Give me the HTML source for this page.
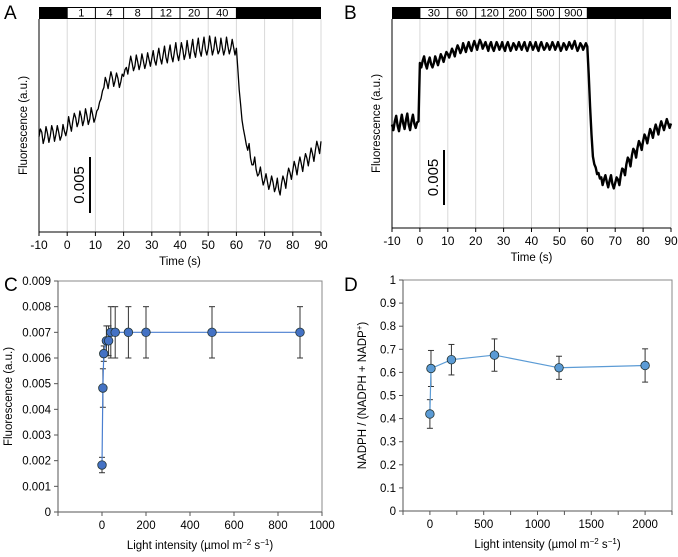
<!DOCTYPE html>
<html><head><meta charset="utf-8"><style>
body{margin:0;background:#fff}
svg{display:block;font-family:"Liberation Sans",sans-serif}
</style></head><body>
<svg id="s" width="678" height="557" viewBox="0 0 678 557"></svg>
<script>
// ---- data ----
const aTime0 = -10; // traces sampled each 1 s from -10 to 90
const aTrace = [8.5,8.9,8.4,8.8,8.6,9.0,8.7,8.9,8.6,9.0,
9.2,9.6,9.9,10.2,9.8,10.3,10.0,10.4,10.1,10.5,
10.2,11.0,11.9,12.9,13.4,13.6,13.8,13.5,13.7,13.4,
13.9,14.7,14.9,15.1,14.8,15.2,15.0,15.3,15.1,15.4,
15.5,15.3,15.7,15.5,15.8,15.6,16.0,15.7,16.1,15.9,
16.0,16.3,15.9,16.2,16.4,16.1,16.5,16.2,16.6,16.3,
16.4,16.7,16.3,16.6,16.2,16.5,16.3,16.6,16.4,16.5,
16.4,12.7,10.0,8.5,7.3,6.6,6.0,5.6,5.2,4.9,
4.6,4.5,4.3,4.4,4.0,3.8,4.3,4.6,5.0,5.3,
5.5,5.8,6.0,6.1,6.3,6.6,6.7,7.0,7.3,7.6,8.1];
// readings halfway between the 1-s samples (noise)
const aMid = [9.2,7.9,9.4,8.0,9.5,8.1,9.5,8.2,9.6,8.6,
10.3,9.0,10.6,9.4,10.8,9.5,11.0,9.6,11.1,9.8,
10.8,11.6,12.6,13.8,12.8,14.3,13.0,14.2,12.9,14.1,
14.5,14.1,15.7,14.4,15.8,14.5,15.9,14.6,16.0,14.8,
16.2,14.9,16.4,15.0,16.6,15.1,16.7,15.2,16.9,15.3,
16.9,15.4,17.1,15.5,17.2,15.6,17.3,15.7,17.4,15.8,
17.5,15.8,17.4,15.9,17.3,15.8,17.4,15.9,17.2,15.8,
14.6,11.4,9.2,7.8,7.9,6.0,6.7,5.0,5.8,4.2,
5.2,3.8,5.0,3.6,4.8,3.3,5.0,3.9,5.7,4.7,
6.3,5.1,6.7,5.4,7.0,5.9,7.5,6.3,8.1,7.0];
const bTrace = [9.4,9.7,9.3,9.6,9.5,9.8,9.4,9.7,9.5,9.6,
15.0,15.2,14.9,15.1,14.9,15.0,15.2,15.3,15.5,15.6,
15.8,15.9,16.0,16.2,16.3,16.2,16.4,16.5,16.4,16.6,
16.6,16.7,16.8,16.6,16.5,16.6,16.4,16.5,16.6,16.5,
16.4,16.6,16.5,16.4,16.6,16.5,16.5,16.6,16.4,16.5,
16.6,16.5,16.4,16.6,16.5,16.4,16.6,16.5,16.6,16.5,
16.5,16.4,16.6,16.5,16.6,16.7,16.5,16.4,16.6,16.5,
16.5,11.0,6.5,5.5,5.0,4.6,4.4,4.2,4.3,4.0,
4.1,4.4,4.8,5.3,5.8,6.2,6.6,7.0,7.3,7.6,
7.9,8.2,8.4,8.7,8.9,9.0,9.2,9.3,9.4,9.5,9.5];
const bMid = [8.9,10.2,8.8,10.3,9.0,10.4,8.9,10.3,9.1,9.7,
14.6,15.6,14.5,15.5,14.6,15.6,14.8,15.8,15.1,16.0,
15.5,16.3,15.6,16.6,15.9,16.8,16.0,16.9,16.1,17.0,
16.2,17.1,16.3,16.9,16.1,16.9,16.1,16.9,16.2,16.9,
16.1,16.9,16.1,16.8,16.2,16.9,16.2,16.9,16.1,16.9,
16.2,16.9,16.1,16.9,16.2,16.8,16.2,16.9,16.2,16.9,
16.1,16.8,16.2,16.9,16.3,17.0,16.1,16.8,16.2,16.8,
14.0,8.5,5.8,4.9,4.5,3.9,4.8,3.7,4.8,3.6,
4.6,3.9,5.4,4.8,6.4,5.6,7.2,6.4,7.9,7.1,
8.5,7.7,9.0,8.2,9.4,8.5,9.7,8.9,9.9,9.1];
const aSteps = ["1","4","8","12","20","40"];
const bSteps = ["30","60","120","200","500","900"];
const timeTicks = [-10,0,10,20,30,40,50,60,70,80,90];
const cX = [0,4,8,20,30,40,60,120,200,500,900];
const cY = [0.00183,0.00483,0.00617,0.00667,0.00667,0.007,0.007,0.007,0.007,0.007,0.007];
const cErr = [0.0003,0.00075,0.0003,0.00058,0.00058,0.001,0.001,0.001,0.001,0.001,0.001];
const cYTicks = [0,0.001,0.002,0.003,0.004,0.005,0.006,0.007,0.008,0.009];
const cXTicks = [0,200,400,600,800,1000];
const dX = [0,10,200,600,1200,2000];
const dY = [0.42,0.617,0.655,0.675,0.62,0.63];
const dErr = [0.062,0.078,0.066,0.07,0.05,0.072];
const dYTicks = [0,0.1,0.2,0.3,0.4,0.5,0.6,0.7,0.8,0.9,1];
const dXTicks = [0,500,1000,1500,2000];

const S = document.getElementById('s');
const NS = 'http://www.w3.org/2000/svg';
function el(tag, attrs, parent, txt){
  const e = document.createElementNS(NS, tag);
  for (const k in attrs) e.setAttribute(k, attrs[k]);
  if (txt !== undefined) e.textContent = txt;
  (parent || S).appendChild(e);
  return e;
}
function grp(name){ const g = el('g', {});   return g; }

function tracePanel(o){
  const g = grp(o.name);
  const X = t => o.x0 + (t + 10) * (o.x1 - o.x0) / 100;
  const Y = v => o.yb - v * o.ppu;
  const grid = grp(o.name + '-gridlines'); g.appendChild(grid);
  for (let t = 0; t <= 90; t += 10) el('line', {x1:X(t), x2:X(t), y1:o.top, y2:o.yb, stroke:'#d9d9d9', 'stroke-width':1}, grid);
  const bar = grp(o.name + '-light-bar'); g.appendChild(bar);
  el('rect', {x:X(-10), y:o.top - 12, width:X(90) - X(-10), height:12, fill:'#000'}, bar);
  o.steps.forEach((s, i) => {
    el('rect', {x:X(i*10)+0.5, y:o.top - 11, width:X(10)-X(0)-1, height:10, fill:'#fff'}, bar);
    const t = el('text', {x:(X(i*10)+X(i*10+10))/2, y:o.top - 2.5, 'font-size':11, 'text-anchor':'middle'}, bar, s);
    
    
  });
  el('line', {x1:X(-10), x2:X(-10), y1:o.top, y2:o.yb, stroke:'#000'}, g);
  el('line', {x1:X(-10), x2:X(90), y1:o.yb, y2:o.yb, stroke:'#000'}, g);
  timeTicks.forEach(t => {
    el('line', {x1:X(t), x2:X(t), y1:o.yb, y2:o.yb + 4, stroke:'#000'}, g);
    const tx = el('text', {x:X(t), y:o.yb + 17, 'font-size':12, 'text-anchor':'middle'}, g, String(t));
    
    
  });
  const xt = el('text', {x:(X(-10)+X(90))/2, y:o.yb + 33, 'font-size':11.5, 'text-anchor':'middle'}, g, 'Time (s)');
  
  
  const yt = el('text', {x:0, y:0, 'font-size':11.5, 'text-anchor':'middle', transform:`translate(${o.x0-12},${(o.top+o.yb)/2}) rotate(-90)`}, g, 'Fluorescence (a.u.)');
  
  
  // trace: interleave 1-s samples with half-second readings
  const p = [];
  o.data.forEach((v, i) => {
    p.push(X(aTime0 + i).toFixed(1) + ',' + Y(v).toFixed(1));
    if (i < o.mid.length) p.push(X(aTime0 + i + 0.5).toFixed(1) + ',' + Y(o.mid[i]).toFixed(1));
  });
  const pl = el('polyline', {points:p.join(' '), fill:'none', stroke:'#000', 'stroke-width':o.sw, 'stroke-linejoin':'round'}, g);
  
  
  const sb = grp(o.name + '-scale-bar'); g.appendChild(sb);
  el('line', {x1:o.sbx, x2:o.sbx, y1:o.sby, y2:o.sby - 5 * o.ppu, stroke:'#000', 'stroke-width':2}, sb);
  el('text', {x:0, y:0, 'font-size':15, 'text-anchor':'middle', transform:`translate(${o.sbx-6},${o.sby - 2.5*o.ppu}) rotate(-90)`}, sb, '0.005');
  const L = el('text', {x:o.lx, y:19, 'font-size':19}, g, o.letter);
  
  
}
tracePanel({name:'panel-a', letter:'A', lx:4, x0:39, x1:321, top:19, yb:232, ppu:11.2, data:aTrace, mid:aMid, steps:aSteps, sw:1.3, sbx:90, sby:213});
tracePanel({name:'panel-b', letter:'B', lx:344, x0:392, x1:671, top:19, yb:228, ppu:11, data:bTrace, mid:bMid, steps:bSteps, sw:2.4, sbx:444, sby:205});

function scatterPanel(o){
  const g = grp(o.name);
  const X = v => o.px0 + (v - o.xmin) * (o.px1 - o.px0) / (o.xmax - o.xmin);
  const Y = v => o.yb - (v - o.ymin) * (o.yb - o.yt) / (o.ymax - o.ymin);
  el('rect', {x:o.px0, y:o.yt, width:o.px1 - o.px0, height:o.yb - o.yt, fill:'none', stroke:'#888', 'stroke-width':1}, g);
  el('line', {x1:o.px0, x2:o.px1, y1:o.yb, y2:o.yb, stroke:'#555'}, g);
  el('line', {x1:o.px0, x2:o.px0, y1:o.yt, y2:o.yb, stroke:'#555'}, g);
  o.yTicks.forEach(v => {
    el('line', {x1:o.px0 - 4, x2:o.px0, y1:Y(v), y2:Y(v), stroke:'#555'}, g);
    const t = el('text', {x:o.px0 - 7, y:Y(v) + 4, 'font-size':11.5, 'text-anchor':'end'}, g, String(v));
    
    
  });
  for (let v = o.xmin; v <= o.xmax + 1e-9; v += o.tickStep) el('line', {x1:X(v), x2:X(v), y1:o.yb, y2:o.yb + 4, stroke:'#555'}, g);
  o.xTicks.forEach(v => {
    const t = el('text', {x:X(v), y:o.yb + 17, 'font-size':11.5, 'text-anchor':'middle'}, g, String(v));
    
    
  });
  const xt = el('text', {x:(o.px0 + o.px1)/2 + 10, y:o.yb + 37, 'font-size':11.5, 'text-anchor':'middle'}, g);
  xt.innerHTML = 'Light intensity (µmol m<tspan dy="-4" font-size="8">−2</tspan><tspan dy="4"> s</tspan><tspan dy="-4" font-size="8">−1</tspan><tspan dy="4">)</tspan>';
  
  
  const yt = el('text', {x:0, y:0, 'font-size':11.5, 'text-anchor':'middle', transform:`translate(${o.ytx},${(o.yt+o.yb)/2}) rotate(-90)`}, g);
  yt.innerHTML = o.yTitle;
  
  
  o.xs.forEach((x, i) => {
    const eb = el('g', {stroke:'#333', 'stroke-width':1}, g);
    
    
    el('line', {x1:X(x), x2:X(x), y1:Y(o.ys[i] - o.err[i]), y2:Y(o.ys[i] + o.err[i])}, eb);
    el('line', {x1:X(x)-3, x2:X(x)+3, y1:Y(o.ys[i] - o.err[i]), y2:Y(o.ys[i] - o.err[i])}, eb);
    el('line', {x1:X(x)-3, x2:X(x)+3, y1:Y(o.ys[i] + o.err[i]), y2:Y(o.ys[i] + o.err[i])}, eb);
  });
  const pl = el('polyline', {points:o.xs.map((x, i) => X(x) + ',' + Y(o.ys[i])).join(' '), fill:'none', stroke:o.lc, 'stroke-width':1.2}, g);
  
  
  o.xs.forEach((x, i) => {
    const c = el('circle', {cx:X(x), cy:Y(o.ys[i]), r:4.3, fill:o.fc, stroke:'#233', 'stroke-width':0.8}, g);
    
    
  });
  const L = el('text', {x:o.lx, y:291, 'font-size':19}, g, o.letter);
  
  
}
scatterPanel({name:'panel-c', letter:'C', lx:4, px0:58, px1:322, xmin:-200, xmax:1000, tickStep:200, yt:281, yb:512, ymin:0, ymax:0.009,
  xs:cX, ys:cY, err:cErr, yTicks:cYTicks, xTicks:cXTicks, lc:'#4a7fd0', fc:'#4472c4', ytx:12, yTitle:'Fluorescence (a.u.)'});
scatterPanel({name:'panel-d', letter:'D', lx:344, px0:403, px1:672, xmin:-250, xmax:2250, tickStep:250, yt:280, yb:511, ymin:0, ymax:1,
  xs:dX, ys:dY, err:dErr, yTicks:dYTicks, xTicks:dXTicks, lc:'#5b9bd5', fc:'#5b9bd5', ytx:366,
  yTitle:'NADPH / (NADPH + NADP<tspan dy="-4" font-size="8">+</tspan><tspan dy="4">)</tspan>'});
</script>
</body></html>
